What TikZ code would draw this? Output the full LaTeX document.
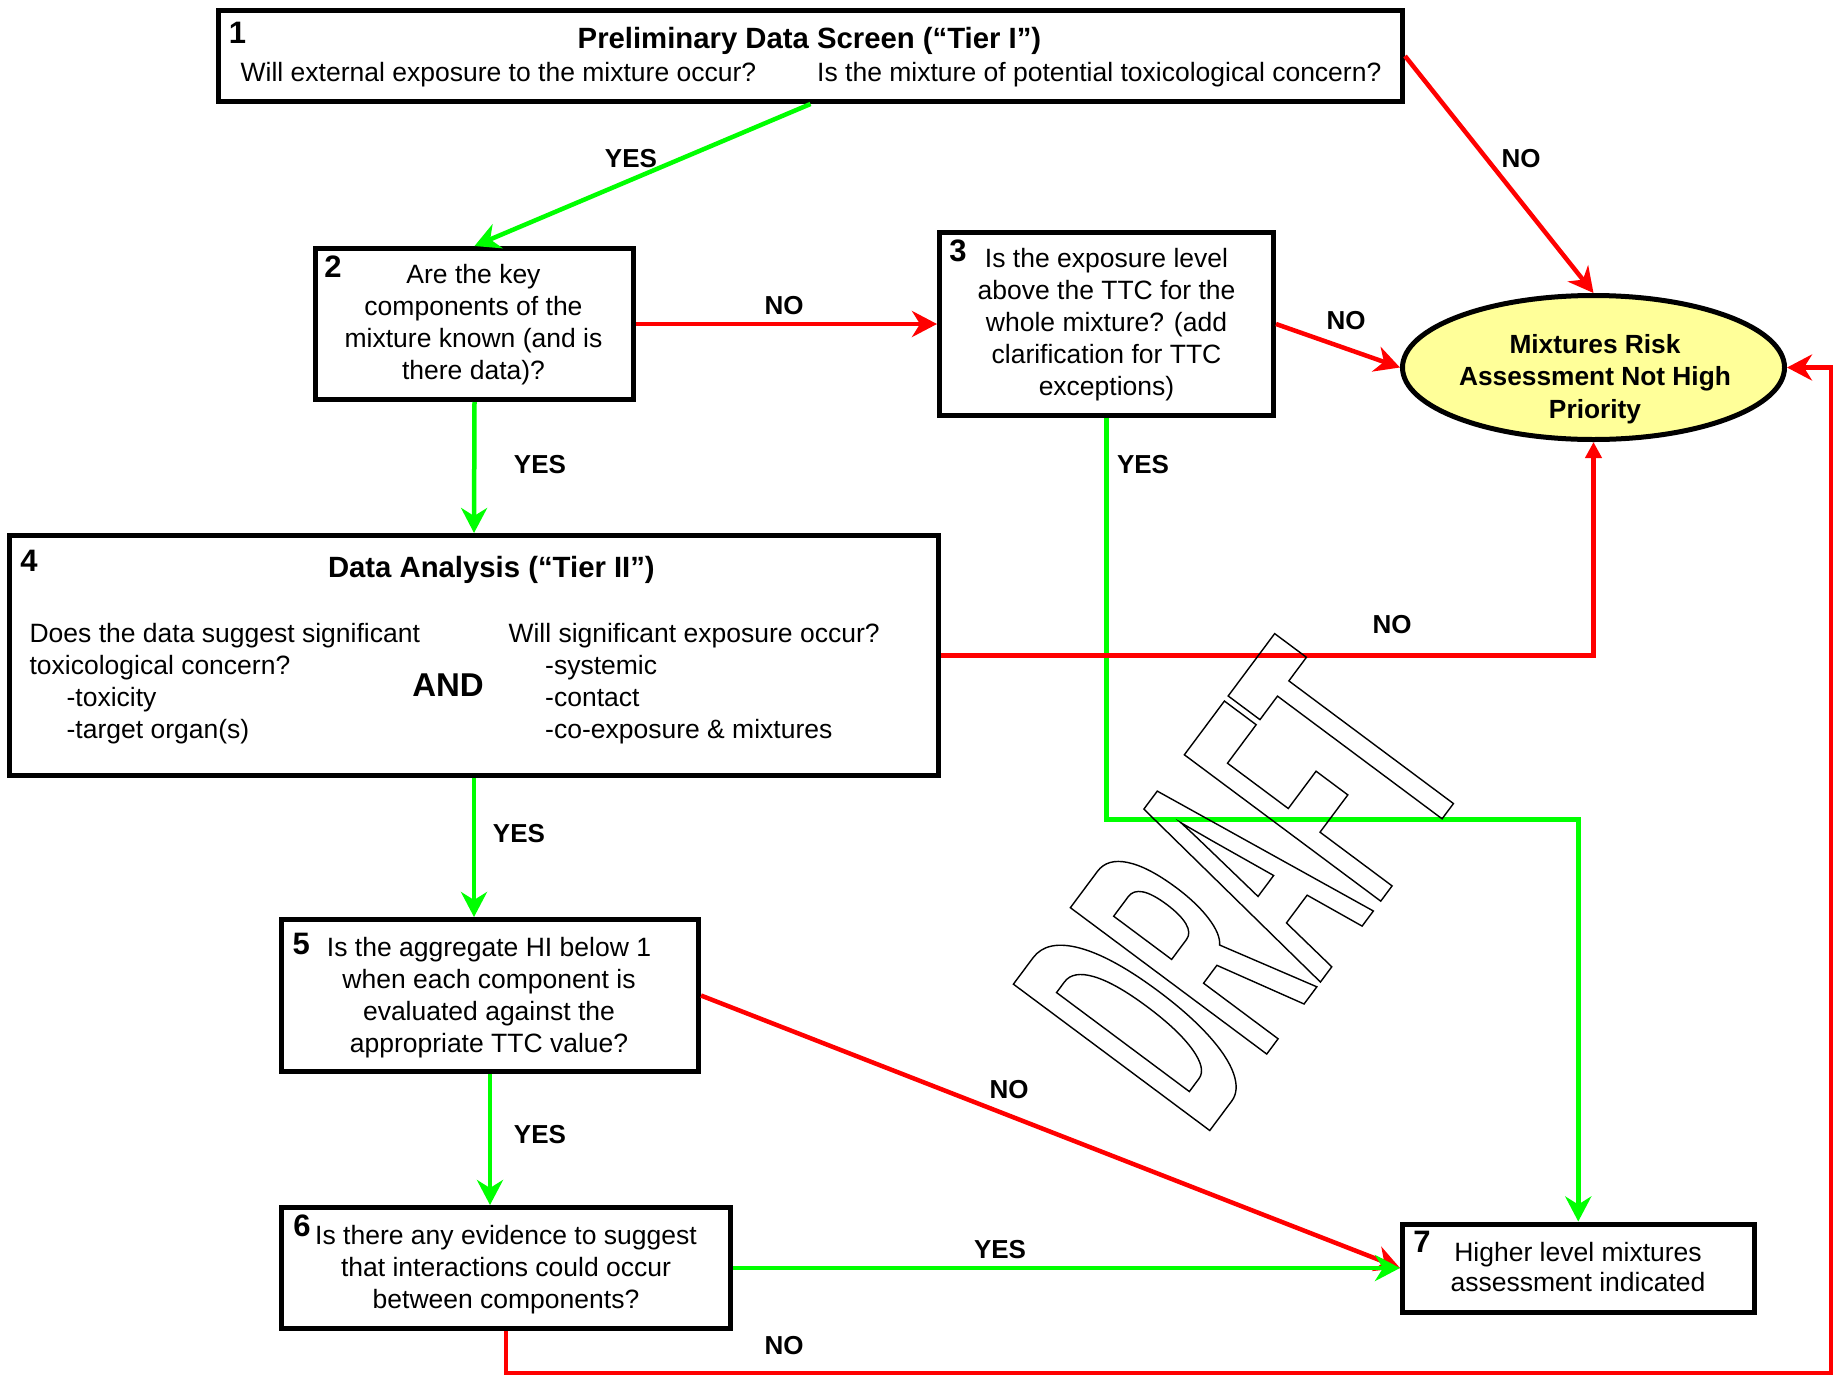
\documentclass[tikz,border=0pt]{standalone}
\usepackage{fontspec}
\setmainfont{Liberation Sans}
\newfontfamily\draftfont[FakeStretch=0.371]{Liberation Sans}
\usetikzlibrary{arrows.meta,shapes.geometric}
\definecolor{lgreen}{RGB}{0,255,0}
\definecolor{lred}{RGB}{255,0,0}
\definecolor{ellfill}{RGB}{255,255,153}
\newcommand\bodyfs{\fontsize{26.5}{32}\selectfont}
\newcommand\titlefs{\fontsize{29.3}{35}\selectfont\bfseries}
\newcommand\numfs{\fontsize{31}{34}\selectfont\bfseries}
\newcommand\labfs{\fontsize{26}{32}\selectfont\bfseries}
\newcommand\ellfs{\fontsize{26.3}{32.5}\selectfont\bfseries}
\newcommand\andfs{\fontsize{33}{38}\selectfont\bfseries}
\newcommand\outlinetext[1]{\special{pdf:literal direct 1 Tr 1.4 w}#1\special{pdf:literal direct 0 Tr}}
\begin{document}
\begin{tikzpicture}[x=1pt,y=-1pt,
  box/.style={draw=black, line width=5pt, inner sep=0pt, fill=white},
  txt/.style={font=\bodyfs, inner sep=0pt, align=center, anchor=north},
  num/.style={font=\numfs, inner sep=0pt},
  lab/.style={font=\labfs, inner sep=0pt},
  yes/.style={draw=lgreen, line width=4.5pt, -{Stealth[length=25pt,width=26pt,inset=8pt]}},
  no/.style={draw=lred, line width=4.5pt, -{Stealth[length=25pt,width=26pt,inset=8pt]}},
  notri/.style={draw=lred, line width=4.5pt, -{Triangle[length=16pt,width=16pt]}}]
\useasboundingbox (0,0) rectangle (1833,1376);
% boxes
\node[box, minimum width=1184pt, minimum height=91pt] (b1) at (810.5,56) {};
\node[box, minimum width=318pt, minimum height=151pt] (b2) at (474.5,324) {};
\node[box, minimum width=334pt, minimum height=183pt] (b3) at (1106.5,324) {};
\node[box, minimum width=929pt, minimum height=240pt] (b4) at (474,655.5) {};
\node[box, minimum width=417pt, minimum height=152pt] (b5) at (490,995.5) {};
\node[box, minimum width=449pt, minimum height=121pt] (b6) at (506,1268) {};
\node[box, minimum width=351.5pt, minimum height=88pt] (b7) at (1578.25,1268) {};
\node[ellipse, draw=black, line width=5pt, fill=ellfill, inner sep=0pt, minimum width=382pt, minimum height=144pt] (ell) at (1593.5,367.5) {};
% numbers
\node[num] (n1) at (237.5,33) {1};
\node[num] (n2) at (333,267) {2};
\node[num] (n3) at (958,250.5) {3};
\node[num] (n4) at (29,560.5) {4};
\node[num] (n5) at (301.3,943.8) {5};
\node[num] (n6) at (302,1226) {6};
\node[num] (n7) at (1422,1242) {7};
% box texts
\node[font=\titlefs, inner sep=0pt, anchor=base] (t1) at (809.5,48) {Preliminary Data Screen (“Tier I”)};
\node[font=\bodyfs, inner sep=0pt, anchor=base west] (t1a) at (240.5,81) {Will external exposure to the mixture occur?};
\node[font=\bodyfs, inner sep=0pt, anchor=base west] (t1b) at (817,81) {Is the mixture of potential toxicological concern?};
\node[txt] (t2) at (473.5,260.4) {\strut Are the key\\components of the\\mixture known (and is\\there data)?};
\node[txt] (t3) at (1106.5,244.9) {\strut Is the exposure level\\above the TTC for the\\whole mixture? (add\\clarification for TTC\\exceptions)};
\node[font=\titlefs, inner sep=0pt, anchor=base] (t4) at (491.4,577) {Data Analysis (“Tier II”)};
\node[txt, align=left, anchor=north west] (t4a) at (29.4,619.4) {\strut Does the data suggest significant\\toxicological concern?\\\hspace*{37pt}-toxicity\\\hspace*{37pt}-target organ(s)};
\node[txt, align=left, anchor=north west] (t4b) at (508.3,619.4) {\strut Will significant exposure occur?\\\hspace*{36.7pt}-systemic\\\hspace*{36.7pt}-contact\\\hspace*{36.7pt}-co-exposure \& mixtures};
\node[font=\andfs, inner sep=0pt, anchor=base] (tand) at (448,696) {AND};
\node[txt] (t5) at (489,933.6) {\strut Is the aggregate HI below 1\\when each component is\\evaluated against the\\appropriate TTC value?};
\node[txt] (t6) at (506,1221.9) {\strut Is there any evidence to suggest\\that interactions could occur\\between components?};
\node[txt, font=\fontsize{26.5}{30}\selectfont] (t7) at (1578,1240) {\strut Higher level mixtures\\assessment indicated};
\node[txt, font=\ellfs] (te) at (1595,330.2) {\strut Mixtures Risk\\Assessment Not High\\Priority};
% helper coordinates
\coordinate (c37) at (1106.5,819.5);
\coordinate (cbr) at (1831,1373);
% connectors
\draw[yes] (b1.south) -- (b2.north);
\draw[no] (b1.east) -- (ell.north);
\draw[no] (b2.east) -- (b3.west);
\draw[no] (b3.east) -- (ell.west);
\draw[yes] (b2.south) -- (b4.north);
\draw[yes] (b3.south) -- (c37) -| (b7.north);
\draw[notri] (b4.east) -| (ell.south);
\draw[yes] (b4.south) -- (b4.south |- b5.north);
\draw[no] (b5.east) -- (b7.west);
\draw[yes] (b5.south) -- (b5.south |- b6.north);
\draw[yes] (b6.east) -- (b7.west);
\draw[no] (b6.south) |- (cbr) |- (ell.east);
% connector labels
\node[lab] (l12) at (631,159) {YES};
\node[lab] (l1e) at (1521,159) {NO};
\node[lab] (l23) at (784,306) {NO};
\node[lab] (l3e) at (1346,321) {NO};
\node[lab] (l24) at (540,465) {YES};
\node[lab] (l37) at (1143,465) {YES};
\node[lab] (l4e) at (1392,625) {NO};
\node[lab] (l45) at (519,834) {YES};
\node[lab] (l57) at (1009,1090) {NO};
\node[lab] (l56) at (540,1135) {YES};
\node[lab] (l67) at (1000,1250) {YES};
\node[lab] (l6e) at (784,1346) {NO};
% watermark
\node[inner sep=0pt, rotate=53.3, font=\draftfont\fontsize{356}{356}\selectfont\bfseries] (wm) at (1240,885) {\outlinetext{DRAFT}};
\end{tikzpicture}
\end{document}
